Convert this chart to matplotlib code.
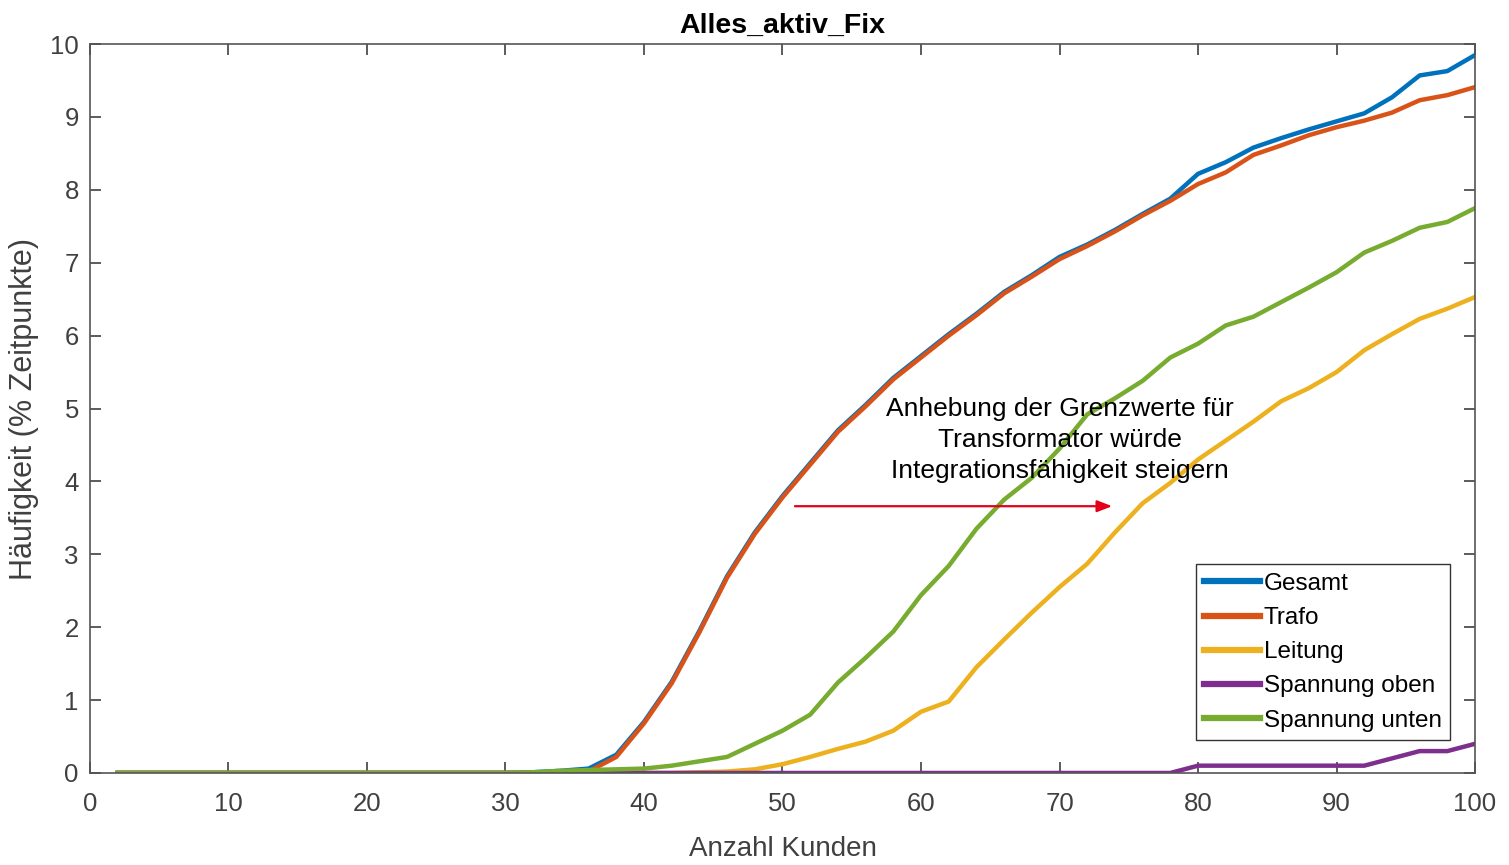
import numpy as np
import matplotlib.pyplot as plt

plt.rcParams['font.family'] = ['Liberation Sans', 'DejaVu Sans']

# Anzahl Kunden (2, 4, ..., 100)
kunden = np.arange(2, 101, 2)

gesamt = [0, 0, 0, 0, 0, 0, 0, 0, 0, 0,
          0, 0, 0, 0, 0, 0.01, 0.03, 0.06, 0.25, 0.7,
          1.25, 1.95, 2.7, 3.3, 3.8, 4.25, 4.7, 5.05, 5.42, 5.72,
          6.02, 6.3, 6.6, 6.83, 7.08, 7.25, 7.45, 7.67, 7.88, 8.22,
          8.38, 8.58, 8.71, 8.83, 8.94, 9.05, 9.27, 9.57, 9.63, 9.85]
trafo = [0, 0, 0, 0, 0, 0, 0, 0, 0, 0,
         0, 0, 0, 0, 0, 0, 0.01, 0.02, 0.22, 0.68,
         1.23, 1.93, 2.68, 3.28, 3.78, 4.23, 4.68, 5.03, 5.4, 5.7,
         6.0, 6.28, 6.58, 6.81, 7.05, 7.23, 7.43, 7.65, 7.85, 8.08,
         8.24, 8.48, 8.61, 8.75, 8.86, 8.95, 9.06, 9.23, 9.3, 9.41]
leitung = [0, 0, 0, 0, 0, 0, 0, 0, 0, 0,
           0, 0, 0, 0, 0, 0, 0, 0, 0, 0,
           0, 0.01, 0.02, 0.05, 0.12, 0.22, 0.33, 0.43, 0.58, 0.84,
           0.98, 1.45, 1.83, 2.2, 2.55, 2.87, 3.3, 3.7, 3.98, 4.3,
           4.56, 4.82, 5.1, 5.28, 5.5, 5.8, 6.02, 6.23, 6.37, 6.53]
spannung_oben = [0, 0, 0, 0, 0, 0, 0, 0, 0, 0,
                 0, 0, 0, 0, 0, 0, 0, 0, 0, 0,
                 0, 0, 0, 0, 0, 0, 0, 0, 0, 0,
                 0, 0, 0, 0, 0, 0, 0, 0, 0, 0.1,
                 0.1, 0.1, 0.1, 0.1, 0.1, 0.1, 0.2, 0.3, 0.3, 0.4]
spannung_unten = [0, 0, 0, 0, 0, 0, 0, 0, 0, 0,
                  0, 0, 0, 0, 0, 0.01, 0.03, 0.04, 0.05, 0.06,
                  0.1, 0.16, 0.22, 0.4, 0.58, 0.8, 1.24, 1.58, 1.94, 2.44,
                  2.84, 3.35, 3.75, 4.05, 4.45, 4.92, 5.14, 5.38, 5.7, 5.89,
                  6.14, 6.26, 6.46, 6.66, 6.87, 7.14, 7.3, 7.48, 7.56, 7.75]

fig = plt.figure(figsize=(15.09, 8.65), dpi=100)
ax = fig.add_axes([0.0596, 0.1064, 0.9179, 0.8426])

lw = 3.2
ax.plot(kunden, gesamt, color='#0072BD', lw=lw, label='Gesamt')
ax.plot(kunden, trafo, color='#D95319', lw=lw, label='Trafo')
ax.plot(kunden, leitung, color='#EDB120', lw=lw, label='Leitung')
ax.plot(kunden, spannung_oben, color='#7E2F8E', lw=lw, label='Spannung oben')
ax.plot(kunden, spannung_unten, color='#77AC30', lw=lw, label='Spannung unten')

ax.set_xlim(0, 100)
ax.set_ylim(0, 10)
ax.set_xticks(range(0, 101, 10))
ax.set_yticks(range(0, 11))
ax.tick_params(direction='in', length=8, width=1.2, colors='#404040',
               labelsize=18.5, top=True, right=True)
ax.tick_params(axis='x', pad=14)
ax.tick_params(axis='y', pad=8)
for s in ax.spines.values():
    s.set_color('#555555')
    s.set_linewidth(1.2)

ax.set_title('Alles_aktiv_Fix', fontsize=20.5, fontweight='bold', pad=8)
ax.set_xlabel('Anzahl Kunden', fontsize=20, color='#404040', labelpad=14)
ax.set_ylabel('Häufigkeit (% Zeitpunkte)', fontsize=22, color='#404040', labelpad=8)

ax.text(70, 4.57, 'Anhebung der Grenzwerte für\nTransformator würde\nIntegrationsfähigkeit steigern',
        ha='center', va='center', fontsize=19, linespacing=1.38)
ax.annotate('', xy=(74.0, 3.66), xytext=(50.7, 3.66),
            arrowprops=dict(arrowstyle='-|>,head_length=0.9,head_width=0.35',
                            color='#E3001B', lw=1.6))

leg = ax.legend(loc='lower right', bbox_to_anchor=(0.982, 0.045), fontsize=17.5,
                handlelength=2.3, handletextpad=0.15, borderpad=0.35,
                labelspacing=0.5, borderaxespad=0, fancybox=False, framealpha=1)
leg.get_frame().set_edgecolor('#333333')
leg.get_frame().set_linewidth(1.0)
for line in leg.get_lines():
    line.set_linewidth(4.5)

fig.savefig('out.png', dpi=100)
